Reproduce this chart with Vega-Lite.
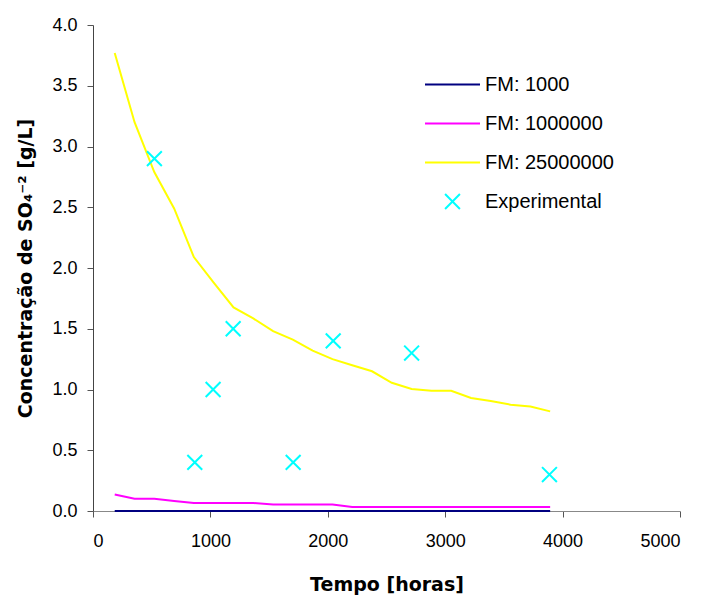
{
  "$schema": "https://vega.github.io/schema/vega-lite/v6.json",
  "autosize": {"type": "none"},
  "width": 587,
  "height": 486,
  "padding": {"left": 93, "top": 25, "right": 24, "bottom": 84},
  "background": "white",
  "config": {
    "view": {"stroke": null},
    "font": "Liberation Sans",
    "axis": {"grid": false, "labelFont": "Liberation Sans", "labelFontSize": 18, "labelColor": "#000", "titleFont": "DejaVu Sans", "titleFontSize": 19, "titleFontWeight": "bold", "titleColor": "#000", "tickSize": 6, "tickWidth": 1, "domainWidth": 1}
  },
  "datasets": {
    "model": [
      {"t": 185, "c": 0.001, "series": "FM: 1000"},
      {"t": 3894, "c": 0.001, "series": "FM: 1000"},
      {"t": 185, "c": 0.135, "series": "FM: 1000000"},
      {"t": 354, "c": 0.10, "series": "FM: 1000000"},
      {"t": 522, "c": 0.10, "series": "FM: 1000000"},
      {"t": 691, "c": 0.083, "series": "FM: 1000000"},
      {"t": 859, "c": 0.066, "series": "FM: 1000000"},
      {"t": 1028, "c": 0.066, "series": "FM: 1000000"},
      {"t": 1197, "c": 0.066, "series": "FM: 1000000"},
      {"t": 1365, "c": 0.066, "series": "FM: 1000000"},
      {"t": 1534, "c": 0.053, "series": "FM: 1000000"},
      {"t": 1702, "c": 0.053, "series": "FM: 1000000"},
      {"t": 1871, "c": 0.053, "series": "FM: 1000000"},
      {"t": 2040, "c": 0.053, "series": "FM: 1000000"},
      {"t": 2208, "c": 0.033, "series": "FM: 1000000"},
      {"t": 2377, "c": 0.033, "series": "FM: 1000000"},
      {"t": 2545, "c": 0.033, "series": "FM: 1000000"},
      {"t": 2714, "c": 0.033, "series": "FM: 1000000"},
      {"t": 2883, "c": 0.033, "series": "FM: 1000000"},
      {"t": 3051, "c": 0.033, "series": "FM: 1000000"},
      {"t": 3220, "c": 0.033, "series": "FM: 1000000"},
      {"t": 3388, "c": 0.033, "series": "FM: 1000000"},
      {"t": 3557, "c": 0.033, "series": "FM: 1000000"},
      {"t": 3726, "c": 0.033, "series": "FM: 1000000"},
      {"t": 3894, "c": 0.033, "series": "FM: 1000000"},
      {"t": 185, "c": 3.77, "series": "FM: 25000000"},
      {"t": 354, "c": 3.20, "series": "FM: 25000000"},
      {"t": 522, "c": 2.79, "series": "FM: 25000000"},
      {"t": 691, "c": 2.49, "series": "FM: 25000000"},
      {"t": 859, "c": 2.09, "series": "FM: 25000000"},
      {"t": 1028, "c": 1.88, "series": "FM: 25000000"},
      {"t": 1197, "c": 1.675, "series": "FM: 25000000"},
      {"t": 1365, "c": 1.585, "series": "FM: 25000000"},
      {"t": 1534, "c": 1.48, "series": "FM: 25000000"},
      {"t": 1702, "c": 1.41, "series": "FM: 25000000"},
      {"t": 1871, "c": 1.32, "series": "FM: 25000000"},
      {"t": 2040, "c": 1.25, "series": "FM: 25000000"},
      {"t": 2208, "c": 1.20, "series": "FM: 25000000"},
      {"t": 2377, "c": 1.15, "series": "FM: 25000000"},
      {"t": 2545, "c": 1.055, "series": "FM: 25000000"},
      {"t": 2714, "c": 1.005, "series": "FM: 25000000"},
      {"t": 2883, "c": 0.99, "series": "FM: 25000000"},
      {"t": 3051, "c": 0.99, "series": "FM: 25000000"},
      {"t": 3220, "c": 0.93, "series": "FM: 25000000"},
      {"t": 3388, "c": 0.905, "series": "FM: 25000000"},
      {"t": 3557, "c": 0.875, "series": "FM: 25000000"},
      {"t": 3726, "c": 0.86, "series": "FM: 25000000"},
      {"t": 3894, "c": 0.82, "series": "FM: 25000000"}
    ],
    "exp": [
      {"t": 523, "c": 2.9, "series": "Experimental"},
      {"t": 867, "c": 0.4, "series": "Experimental"},
      {"t": 1023, "c": 1.0, "series": "Experimental"},
      {"t": 1194, "c": 1.5, "series": "Experimental"},
      {"t": 1705, "c": 0.4, "series": "Experimental"},
      {"t": 2046, "c": 1.4, "series": "Experimental"},
      {"t": 2714, "c": 1.3, "series": "Experimental"},
      {"t": 3888, "c": 0.3, "series": "Experimental"}
    ]
  },
  "encoding": {
    "x": {"field": "t", "type": "quantitative", "scale": {"domain": [0, 5000], "nice": false, "zero": false}, "axis": {"values": [0, 1000, 2000, 3000, 4000, 5000], "format": "d", "title": "Tempo [horas]", "titlePadding": 25, "labelPadding": 15, "domainColor": "#888", "tickColor": "#555"}},
    "y": {"field": "c", "type": "quantitative", "scale": {"domain": [0, 4], "nice": false}, "axis": {"values": [0, 0.5, 1, 1.5, 2, 2.5, 3, 3.5, 4], "format": ".1f", "title": "Concentração de SO₄⁻² [g/L]", "titlePadding": 16, "labelPadding": 10, "domainColor": "#444", "tickColor": "#555"}},
    "color": {
      "field": "series", "type": "nominal",
      "scale": {"domain": ["FM: 1000", "FM: 1000000", "FM: 25000000", "Experimental"], "range": ["#000080", "#FF00FF", "#FFFF00", "#00FFFF"]},
      "legend": {
        "title": null, "orient": "none", "legendX": 331, "legendY": 31,
        "symbolSize": 400, "symbolStrokeWidth": 2, "labelFontSize": 20, "labelFont": "Liberation Sans", "labelColor": "#000",
        "labelOffset": 4, "rowPadding": -2,
        "encode": {"symbols": {"update": {
          "shape": {"signal": "datum.value === 'Experimental' ? 'M-0.27,-0.27L0.27,0.27M-0.27,0.27L0.27,-0.27' : 'stroke'"},
          "size": {"value": 3025},
          "fill": {"value": "transparent"},
          "stroke": {"scale": "color", "field": "value"},
          "strokeWidth": {"value": 2}
        }}}
      }
    }
  },
  "layer": [
    {"data": {"name": "model"}, "mark": {"type": "line", "strokeWidth": 2}},
    {"data": {"name": "exp"}, "mark": {"type": "point", "shape": "M-0.27,-0.27L0.27,0.27M-0.27,0.27L0.27,-0.27", "size": 3025, "filled": false, "strokeWidth": 2, "opacity": 1}}
  ]
}
